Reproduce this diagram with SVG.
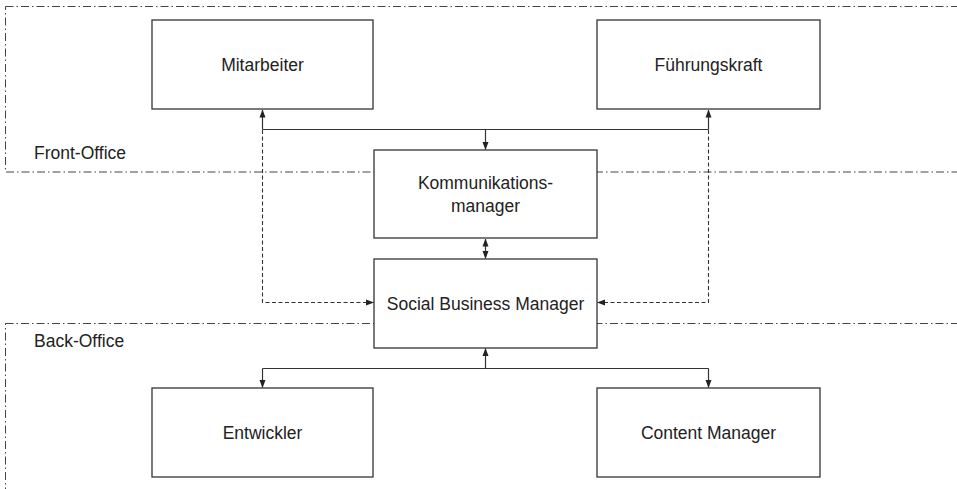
<svg xmlns="http://www.w3.org/2000/svg" width="957" height="489" viewBox="0 0 957 489">
<style>
.box{fill:#fff;stroke:#333;stroke-width:1.3}
.zone{fill:none;stroke:#444;stroke-width:1;stroke-dasharray:8 3 1.5 3}
.lbl{font-family:"Liberation Sans",Arial,sans-serif;font-size:17.5px;fill:#222;text-anchor:middle}
.zlbl{font-family:"Liberation Sans",Arial,sans-serif;font-size:17.5px;fill:#222}
.solid{fill:none;stroke:#333;stroke-width:1.2}
.dash{fill:none;stroke:#333;stroke-width:1.1;stroke-dasharray:4 2.5}
</style>
<defs>
<marker id="ah" markerUnits="userSpaceOnUse" markerWidth="8" markerHeight="8" viewBox="0 0 8 8" refX="7.5" refY="4" orient="auto-start-reverse">
<path d="M0,1 L8,4 L0,7 Z" fill="#222"/>
</marker>
</defs>
<g id="zones">
<rect class="zone" x="5.5" y="6.5" width="960" height="165.5"/>
<text class="zlbl" x="34" y="159">Front-Office</text>
<rect class="zone" x="5.5" y="323.5" width="960" height="180"/>
<text class="zlbl" x="34" y="347">Back-Office</text>
</g>
<g id="connectors">
<path class="solid" d="M262.5,129.5 H708.5"/>
<path class="solid" d="M262.5,129.5 V110" marker-end="url(#ah)"/>
<path class="solid" d="M708.5,129.5 V110" marker-end="url(#ah)"/>
<path class="solid" d="M485.5,129.5 V149.5" marker-end="url(#ah)"/>
<path class="solid" d="M485.5,239 V258.5" marker-start="url(#ah)" marker-end="url(#ah)"/>
<path class="dash" d="M262.5,130 V302.5 H373.5" marker-end="url(#ah)"/>
<path class="dash" d="M708.5,130 V302.5 H597.5" marker-end="url(#ah)"/>
<path class="solid" d="M262.5,368.5 H708.5"/>
<path class="solid" d="M485.5,368.5 V348.5" marker-end="url(#ah)"/>
<path class="solid" d="M262.5,368.5 V387.5" marker-end="url(#ah)"/>
<path class="solid" d="M708.5,368.5 V387.5" marker-end="url(#ah)"/>
</g>
<g id="mitarbeiter">
<rect class="box" x="152" y="20" width="221" height="89"/>
<text class="lbl" x="262.5" y="71">Mitarbeiter</text>
</g>
<g id="fuehrungskraft">
<rect class="box" x="597" y="20" width="223" height="89"/>
<text class="lbl" x="708.5" y="71">Führungskraft</text>
</g>
<g id="kommunikationsmanager">
<rect class="box" x="374" y="150" width="223" height="88"/>
<text class="lbl" x="485.5" y="189">Kommunikations-</text>
<text class="lbl" x="485.5" y="212">manager</text>
</g>
<g id="socialbusinessmanager">
<rect class="box" x="374" y="259" width="223" height="89"/>
<text class="lbl" x="485.5" y="310">Social Business Manager</text>
</g>
<g id="entwickler">
<rect class="box" x="152" y="388" width="221" height="89"/>
<text class="lbl" x="262.5" y="439">Entwickler</text>
</g>
<g id="contentmanager">
<rect class="box" x="597" y="388" width="223" height="89"/>
<text class="lbl" x="708.5" y="439">Content Manager</text>
</g>
</svg>
